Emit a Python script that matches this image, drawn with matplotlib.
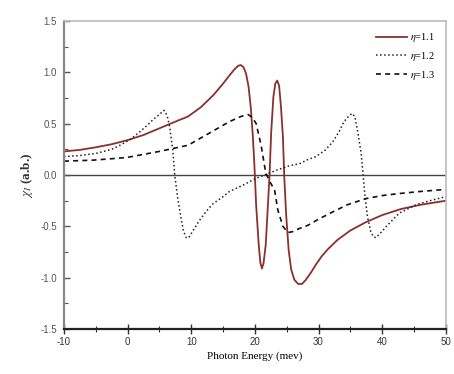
import numpy as np
import matplotlib
matplotlib.use('Agg')
import matplotlib.pyplot as plt
from matplotlib.ticker import MultipleLocator

# eta = 1.1 (solid)
x11 = [-10, -7.5, -5.0, -2.5, 0.0, 2.5, 5.0, 7.5, 9.5, 11.5, 13.5, 15.0, 16.0, 16.8,
       17.4, 17.8, 18.2, 18.6, 19.0, 19.35, 19.65, 19.9,
       20.2, 20.6, 20.85, 21.1, 21.35, 21.7, 22.0, 22.3, 22.55, 22.9, 23.2, 23.5, 23.8,
       24.1, 24.4, 24.6, 24.9, 25.3, 25.7, 26.2, 26.8, 27.4, 28.0, 28.8, 29.6, 30.5, 31.5,
       33.0, 35.0, 37.4, 40.0, 43.0, 46.0, 50.0]
y11 = [0.23, 0.245, 0.27, 0.30, 0.34, 0.39, 0.455, 0.52, 0.57, 0.66, 0.78, 0.89, 0.97, 1.03,
       1.065, 1.07, 1.05, 0.99, 0.86, 0.66, 0.40, 0.12,
       -0.30, -0.68, -0.85, -0.91, -0.86, -0.68, -0.34, 0.0, 0.41, 0.76, 0.89, 0.92, 0.87,
       0.66, 0.37, 0.0, -0.38, -0.73, -0.92, -1.02, -1.06, -1.06, -1.02, -0.95, -0.87, -0.79, -0.72,
       -0.63, -0.54, -0.46, -0.39, -0.33, -0.29, -0.25]

# eta = 1.2 (dotted)
x12 = [-10, -7.5, -5.0, -2.5, -1.2, 0.5, 1.9, 3.0, 4.0, 5.0, 5.7, 6.2, 6.6, 7.1, 7.4, 7.9,
       8.45, 8.8, 9.2, 9.6, 10.0, 11.3, 12.4, 13.4, 15.0, 16.0, 18.1, 20.2, 21.5, 23.5,
       25.4, 27.0, 28.3, 29.6, 31.0, 32.2, 33.2, 34.0, 34.7, 35.25, 35.7, 36.1, 36.7, 37.0,
       37.3, 37.7, 38.2, 38.6, 39.0, 39.8, 40.8, 42.7, 45.3, 47.5, 50.0]
y12 = [0.18, 0.19, 0.21, 0.25, 0.29, 0.35, 0.42, 0.48, 0.54, 0.59, 0.63, 0.58, 0.47, 0.24, 0.0, -0.24,
       -0.44, -0.55, -0.61, -0.61, -0.57, -0.44, -0.35, -0.28, -0.21, -0.16, -0.10, -0.03, 0.0, 0.05,
       0.09, 0.11, 0.15, 0.18, 0.24, 0.32, 0.42, 0.52, 0.57, 0.60, 0.57, 0.44, 0.21, 0.0,
       -0.21, -0.41, -0.55, -0.60, -0.61, -0.56, -0.49, -0.37, -0.29, -0.25, -0.21]

# eta = 1.3 (dashed)
x13 = [-10, -5.4, -0.2, 5.0, 9.5, 12.9, 16.0, 17.8, 18.9, 19.6, 20.2, 21.0, 21.7, 22.4, 23.1,
       23.6, 24.4, 25.2, 26.0, 27.0, 28.3, 30.0, 32.2, 34.5, 37.4, 40.0, 42.7, 46.0, 50.0]
y13 = [0.135, 0.145, 0.17, 0.23, 0.29, 0.41, 0.52, 0.57, 0.59, 0.56, 0.50, 0.28, 0.02, -0.07, -0.15,
       -0.34, -0.50, -0.56, -0.55, -0.52, -0.49, -0.43, -0.36, -0.29, -0.23, -0.20, -0.18, -0.16, -0.14]

labels = [r'$\eta$=1.1', r'$\eta$=1.2', r'$\eta$=1.3']

plt.rcParams['mathtext.fontset'] = 'stix'
plt.rcParams['axes.unicode_minus'] = False

fig = plt.figure(figsize=(4.54, 3.74), dpi=100)
ax = fig.add_axes([0.141, 0.120, 0.841, 0.824])

ax.axhline(0, color='#444444', lw=1.0, zorder=1)
ax.plot(x11, y11, '-', color='#8b2f2f', lw=1.3, label=labels[0])
ax.plot(x12, y12, ':', color='#222222', lw=1.1, label=labels[1])
ax.plot(x13, y13, '--', color='#111111', lw=1.2, dashes=(3, 2.5), label=labels[2])

ax.set_xlim(-10, 50)
ax.set_ylim(-1.5, 1.5)
ax.xaxis.set_major_locator(MultipleLocator(10))
ax.xaxis.set_minor_locator(MultipleLocator(5))
ax.yaxis.set_major_locator(MultipleLocator(0.5))
ax.yaxis.set_minor_locator(MultipleLocator(0.25))
ax.yaxis.set_major_formatter(plt.FuncFormatter(lambda v, p: f'{v:.1f}'))

ax.tick_params(axis='x', which='major', direction='inout', length=7, width=1.0,
               labelsize=7, colors='#333333', pad=2)
ax.tick_params(axis='x', which='minor', direction='inout', length=4, width=0.8, colors='#333333')
ax.tick_params(axis='y', which='major', direction='in', length=4, width=1.0,
               labelsize=7, colors='#555555', pad=5)
ax.tick_params(axis='y', which='minor', direction='in', length=3, width=0.8, colors='#555555')
for t in ax.get_xticklabels() + ax.get_yticklabels():
    t.set_family('Liberation Sans')

ax.spines['bottom'].set_linewidth(1.6)
ax.spines['bottom'].set_color('#222222')
ax.spines['left'].set_linewidth(1.6)
ax.spines['left'].set_color('#888888')
ax.spines['top'].set_color('#bbbbbb')
ax.spines['right'].set_color('#bbbbbb')
ax.spines['top'].set_linewidth(1.2)
ax.spines['right'].set_linewidth(1.2)

ax.set_xlabel('Photon Energy (mev)', family='Liberation Serif', fontsize=8, labelpad=3)
ax.set_ylabel(r'$\chi_I$ (a.b.)', family='Liberation Serif', fontsize=9.5,
              fontweight='bold', color='#333333', labelpad=4)

leg = ax.legend(loc='upper right', frameon=False, prop={'family': 'Liberation Serif', 'size': 7.5},
                handlelength=3.0, handletextpad=0.3, labelspacing=0.55, borderaxespad=0.6)

fig.savefig('out.png', dpi=100)
